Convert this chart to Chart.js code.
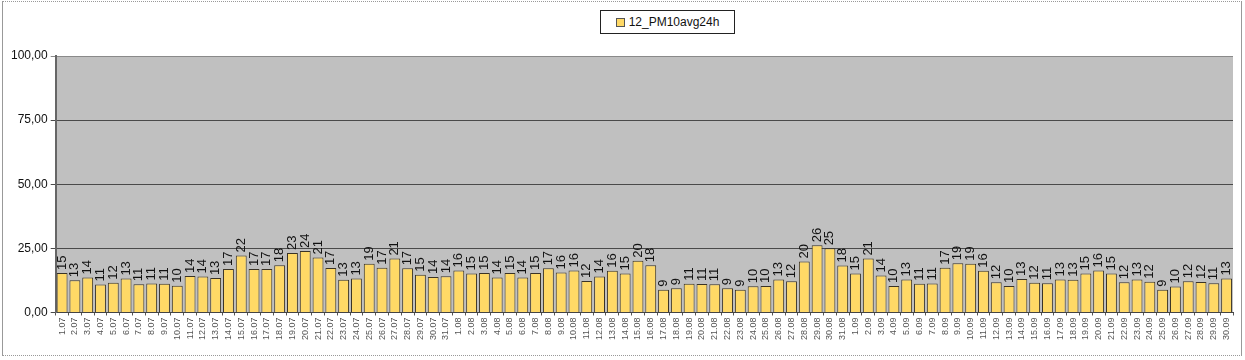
<!DOCTYPE html>
<html>
<head>
<meta charset="utf-8">
<script src="https://cdn.jsdelivr.net/npm/chart.js@4/dist/chart.umd.min.js"></script>
<style>
  body { margin: 0; background: #fff; }
  #wrap { position: relative; width: 1245px; height: 360px; }
  #frame { position: absolute; left: 2px; top: 1px; width: 1240px; height: 355px;
           border: 1px solid #999; border-top-style: dotted; border-bottom-style: dotted; box-sizing: border-box; }
  #legend { position: absolute; left: 600px; top: 10px; width: 135px; height: 24px; box-sizing: border-box;
            border: 1px solid #222; font: 12px "Liberation Sans", Arial, sans-serif; color: #111;
            display: flex; align-items: center; justify-content: center; background: #fff; }
  #legend i { display: inline-block; width: 7px; height: 7px; border: 1px solid #555; margin-right: 4px; }
</style>
</head>
<body>
<div id="wrap">
  <canvas id="chart" width="1245" height="360"></canvas>
  <div id="frame"></div>
  <div id="legend"></div>
</div>
<script>
const seriesName = '12_PM10avg24h';
const months = ['07', '08', '09'];
const monthDays = [31, 31, 30];
const july = [15.4, 12.6, 13.6, 10.9, 11.6, 13.2, 11.0, 11.3, 11.2, 10.4, 14.2, 14.0, 13.4, 17.0, 22.2,
              17.0, 17.0, 18.4, 23.2, 24.0, 21.4, 17.3, 12.8, 13.2, 19.0, 17.4, 21.0, 17.2, 14.7, 13.8, 14.1];
const august = [16.4, 15.2, 15.4, 13.6, 15.4, 13.6, 15.4, 17.2, 15.6, 16.4, 12.3, 14.0, 16.3, 15.2, 20.2,
                18.4, 8.9, 9.4, 11.2, 11.1, 11.0, 9.4, 8.9, 10.2, 10.3, 12.9, 12.2, 19.9, 26.2, 25.0, 18.3];
const september = [15.2, 21.0, 14.4, 10.3, 12.9, 11.2, 11.3, 17.4, 19.2, 19.0, 16.3, 11.8, 10.3, 13.1, 11.6,
                   11.4, 12.9, 12.8, 15.2, 16.4, 15.2, 11.8, 12.9, 12.0, 8.9, 10.1, 12.2, 11.9, 11.4, 13.2];
const yTicks = [0, 25, 50, 75, 100];

const values = july.concat(august, september);
const days = [];
months.forEach((m, i) => {
  for (let d = 1; d <= monthDays[i]; d++) days.push(d + '.' + m);
});

const barFill = '#FFD966';
const barLine = '#3a3326';

document.getElementById('legend').innerHTML =
  '<i style="background:' + barFill + '"></i>' + seriesName;

// grey plot area like the old excel chart
const plotBg = {
  id: 'plotBg',
  beforeDraw(chart) {
    const a = chart.chartArea;
    const ctx = chart.ctx;
    ctx.save();
    ctx.fillStyle = '#C0C0C0';
    ctx.fillRect(a.left, a.top, a.right - a.left, a.bottom - a.top);
    ctx.restore();
  }
};

// vertical value labels above each bar
const barLabels = {
  id: 'barLabels',
  afterDatasetsDraw(chart) {
    const ctx = chart.ctx;
    const meta = chart.getDatasetMeta(0);
    ctx.save();
    ctx.font = '13px "Liberation Sans", Arial, sans-serif';
    ctx.fillStyle = '#111';
    ctx.textAlign = 'left';
    ctx.textBaseline = 'middle';
    meta.data.forEach((bar, i) => {
      ctx.save();
      ctx.translate(bar.x, bar.y - 3);
      ctx.rotate(-Math.PI / 2);
      ctx.fillText(String(Math.round(values[i])), 0, 0);
      ctx.restore();
    });
    ctx.restore();
  }
};

const ctx = document.getElementById('chart');
new Chart(ctx, {
  type: 'bar',
  data: {
    labels: days,
    datasets: [{
      label: seriesName,
      data: values,
      backgroundColor: barFill,
      borderColor: barLine,
      borderWidth: 1,
      barPercentage: 0.85,
      categoryPercentage: 1
    }]
  },
  options: {
    responsive: false,
    animation: false,
    layout: { padding: { top: 56, left: 8, right: 12, bottom: 18 } },
    plugins: {
      legend: { display: false },
      tooltip: { enabled: false }
    },
    scales: {
      x: {
        grid: { drawOnChartArea: false, drawTicks: true, tickLength: 3, color: '#555' },
        border: { color: '#444', width: 1 },
        ticks: {
          autoSkip: false,
          maxRotation: 90,
          minRotation: 90,
          padding: 2,
          color: '#555',
          font: { size: 9, family: '"Liberation Sans", Arial, sans-serif' }
        }
      },
      y: {
        min: 0,
        max: 100,
        afterBuildTicks: axis => { axis.ticks = yTicks.map(v => ({ value: v })); },
        grid: {
          color: c => (c.tick && c.tick.value === 100 ? '#8a8a8a' : '#4a4a4a'),
          lineWidth: 1,
          tickLength: 5
        },
        border: { color: '#666', width: 2 },
        ticks: {
          padding: 3,
          color: '#111',
          font: { size: 12, family: '"Liberation Sans", Arial, sans-serif' },
          callback: v => v.toFixed(2).replace('.', ',')
        }
      }
    }
  },
  plugins: [plotBg, barLabels]
});
</script>
</body>
</html>
